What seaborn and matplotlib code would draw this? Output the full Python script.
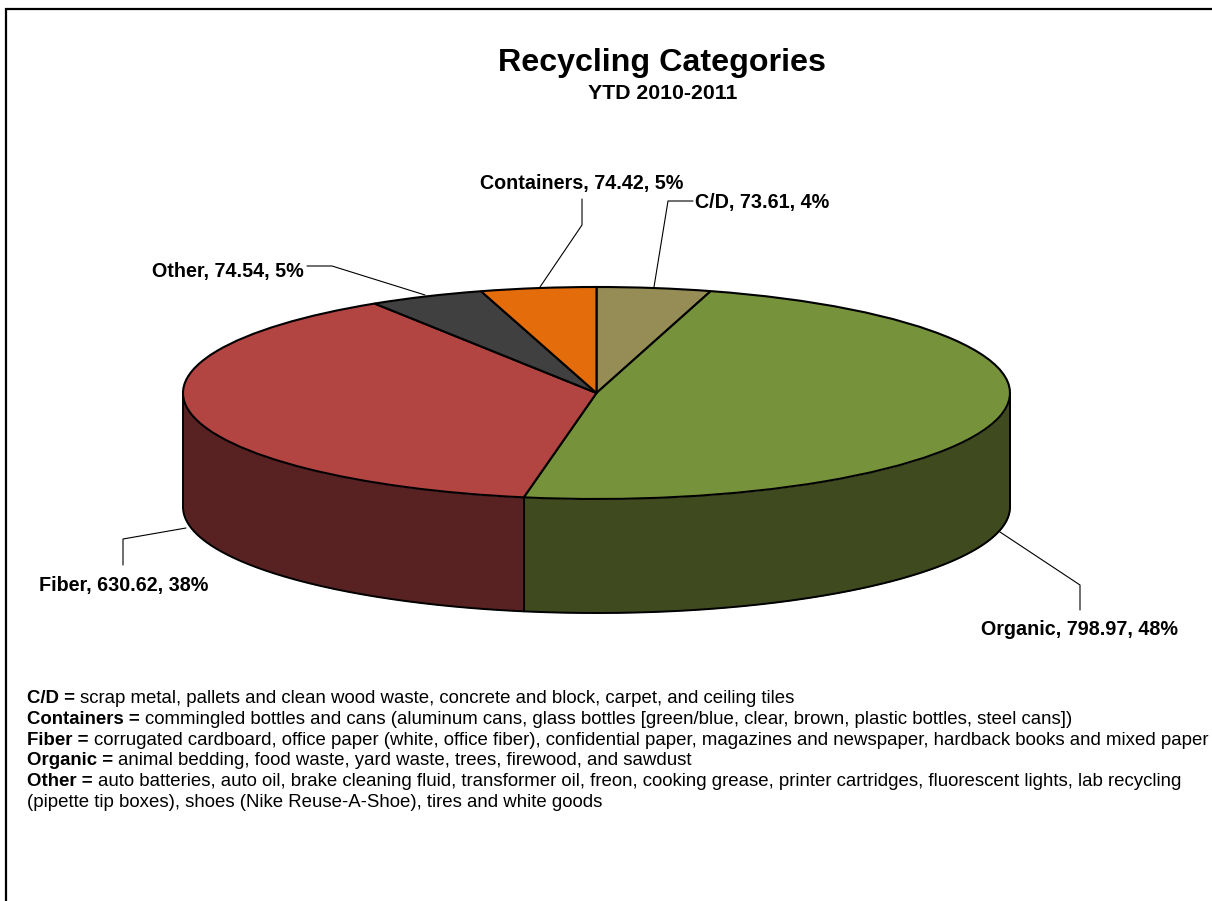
import numpy as np
import matplotlib
matplotlib.use("Agg")
import matplotlib.pyplot as plt
import seaborn as sns

# chart data, clockwise from 12 o'clock
categories = ["C/D", "Organic", "Fiber", "Other", "Containers"]
tons = [73.61, 798.97, 630.62, 74.54, 74.42]
percent_labels = ["4%", "48%", "38%", "5%", "5%"]
top_colors = ["#968C55", "#76933C", "#B24442", "#404040", "#E46C0A"]
side_colors = ["#4B462A", "#3F4A1F", "#592222", "#202020", "#723605"]

title = "Recycling Categories"
subtitle = "YTD 2010-2011"

notes = [
    ("C/D = ", "scrap metal, pallets and clean wood waste, concrete and block, carpet, and ceiling tiles"),
    ("Containers = ", "commingled bottles and cans (aluminum cans, glass bottles [green/blue, clear, brown, plastic bottles, steel cans])"),
    ("Fiber = ", "corrugated cardboard, office paper (white, office fiber), confidential paper, magazines and newspaper, hardback books and mixed paper"),
    ("Organic = ", "animal bedding, food waste, yard waste, trees, firewood, and sawdust"),
    ("Other = ", "auto batteries, auto oil, brake cleaning fluid, transformer oil, freon, cooking grease, printer cartridges, fluorescent lights, lab recycling"),
    ("", "(pipette tip boxes), shoes (Nike Reuse-A-Shoe), tires and white goods"),
]

sns.set_theme(style="white")
plt.rcParams["font.family"] = ["Liberation Sans", "DejaVu Sans"]

W, H = 1212, 901
fig = plt.figure(figsize=(W / 100, H / 100), dpi=100, facecolor="white")

# page axes in pixel coordinates for text and leader lines
page = fig.add_axes([0, 0, 1, 1], zorder=3)
page.set_xlim(0, W)
page.set_ylim(H, 0)
page.axis("off")
page.patch.set_alpha(0)

# pie axes: unit circle squashed into the ellipse
cx, cy, rx, ry, depth = 596.5, 393, 413.5, 106, 114
ax = fig.add_axes([(cx - rx) / W, 1 - (cy + ry) / H, 2 * rx / W, 2 * ry / H], zorder=2)

# side wall first, front half only
fracs = np.array(tons) / sum(tons)
edges = np.concatenate([[0], np.cumsum(fracs)]) * 2 * np.pi
d = depth / ry
for a0, a1, col in zip(edges[:-1], edges[1:], side_colors):
    lo, hi = max(a0, np.pi / 2), min(a1, 3 * np.pi / 2)
    if hi <= lo:
        continue
    t = np.linspace(lo, hi, 200)
    x = np.sin(t)
    y = np.cos(t)
    ax.fill_between(x, y, y - d, color=col, lw=0, clip_on=False)
    ax.plot(x, y - d, color="black", lw=1.4, clip_on=False)
    for tt in (lo, hi):
        ax.plot([np.sin(tt)] * 2, [np.cos(tt), np.cos(tt) - d], color="black", lw=1.4, clip_on=False)

wedges, _ = ax.pie(
    tons,
    colors=sns.color_palette(top_colors),
    startangle=90,
    counterclock=False,
    radius=1,
    wedgeprops={"edgecolor": "black", "linewidth": 1.5, "clip_on": False},
)
ax.set_aspect("auto")
ax.set_xlim(-1, 1)
ax.set_ylim(-1, 1)
ax.axis("off")

# title
page.text(662.5, 70.5, title, ha="center", va="baseline", fontsize=23.2, fontweight="bold", color="black")
page.text(662.5, 99, subtitle, ha="center", va="baseline", fontsize=15.3, fontweight="bold", color="black")

# data labels, same order as categories
label_pos = [(695, 208, "left"), (1178, 635, "right"), (208, 591, "right"), (304, 277, "right"), (683, 189, "right")]
leaders = [
    [(654, 287), (668, 201), (693, 201)],
    [(1000, 532), (1080, 585), (1080, 610)],
    [(186, 528), (123, 539), (123, 565)],
    [(425, 295), (332, 266), (307, 266)],
    [(540, 287), (582, 225), (582, 199)],
]
for name, val, pct, (lx, ly, ha), pts in zip(categories, tons, percent_labels, label_pos, leaders):
    page.text(lx, ly, f"{name}, {val:.2f}, {pct}", ha=ha, va="baseline", fontsize=14.2, fontweight="bold", color="black")
    page.plot(*zip(*pts), color="black", lw=0.8)

# notes under the pie, bold key then plain text
fig.canvas.draw()
renderer = fig.canvas.get_renderer()
note_y = [703, 724, 745, 765, 786, 807]
for (key, desc), y in zip(notes, note_y):
    x = 27
    if key:
        t = page.text(x, y, key, fontsize=13.38, fontweight="bold", va="baseline", color="black")
        x = t.get_window_extent(renderer).x1
    page.text(x, y, desc, fontsize=13.38, va="baseline", color="black")

# border, only top and left are visible in the crop
page.plot([6, 6, W], [H, 9, 9], color="black", lw=1.6, solid_joinstyle="miter", clip_on=False)

fig.savefig("out.png", dpi=100, facecolor="white")
